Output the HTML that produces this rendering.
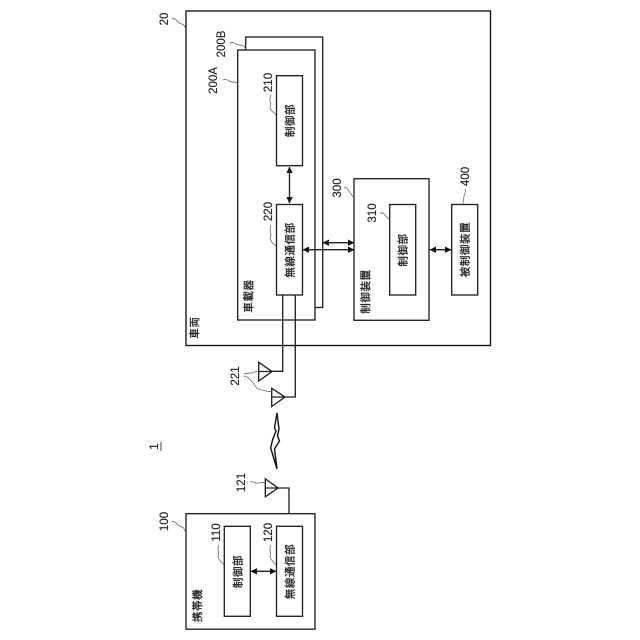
<!DOCTYPE html>
<html><head><meta charset="utf-8"><style>
html,body{margin:0;padding:0;background:#fff}
svg{display:block}
text{font-family:"Liberation Sans","Noto Sans CJK JP",sans-serif;fill:#222;text-anchor:middle;dominant-baseline:central}
.n{font-size:11.5px;stroke:#222;stroke-width:.15}
.j{font-size:10.5px;letter-spacing:.6px;stroke:#222;stroke-width:.3}
.b{fill:#fff;stroke:#222;stroke-width:1.35}
.l{fill:none;stroke:#222;stroke-width:1.35}
.w{fill:none;stroke:#555;stroke-width:.7}
</style></head><body>
<svg width="640" height="640" viewBox="0 0 640 640" xmlns="http://www.w3.org/2000/svg">
<defs>
<marker id="a" viewBox="0 0 8 8" refX="7.5" refY="4" markerWidth="6.5" markerHeight="6.5" markerUnits="userSpaceOnUse" orient="auto-start-reverse"><path d="M0 0L8 4L0 8z" fill="#111"/></marker>
</defs>
<rect x="186" y="11" width="304.5" height="334.5" fill="#fff" stroke="#111" stroke-width="1.35"/>
<rect class="b" x="245.7" y="37" width="77" height="270.5"/>
<rect class="b" x="237.7" y="50" width="77.3" height="270"/>
<rect class="b" x="276.5" y="75.7" width="26" height="90"/>
<rect class="b" x="276.5" y="204.5" width="26" height="90.5"/>
<rect class="b" x="354" y="178.7" width="75" height="141.6"/>
<rect class="b" x="389.7" y="204.5" width="26" height="90.5"/>
<rect class="b" x="451.7" y="204.5" width="26" height="90.5"/>
<rect class="b" x="186" y="513.7" width="129" height="115.5"/>
<rect class="b" x="224.3" y="526.3" width="26" height="90"/>
<rect class="b" x="276.5" y="526.3" width="26" height="90"/>

<path class="l" d="M289.5 167V203" marker-start="url(#a)" marker-end="url(#a)"/>
<path class="l" d="M323 242.7H354" marker-start="url(#a)" marker-end="url(#a)"/>
<path class="l" d="M303 249.7H354" marker-start="url(#a)" marker-end="url(#a)"/>
<path class="l" d="M430 249.7H451" marker-start="url(#a)" marker-end="url(#a)"/>
<path class="l" d="M251 571.3H276" marker-start="url(#a)" marker-end="url(#a)"/>

<path class="l" d="M282.7 295V371.3H272"/>
<path class="l" d="M295.3 295V397H285"/>
<path class="l" d="M258.7 362.3V381L272 371.5zM258.7 371.5H272"/>
<path class="l" d="M271.7 388.2V406.5L285 397zM271.7 397H285"/>
<path class="l" d="M265.3 478.8V496.8L278 488zM265.3 488H278"/>
<path class="l" d="M278 488H289V513.7"/>
<path d="M277 413L274.5 428L276 431L272.5 440L270.7 448L277 469L274.5 449L279.5 441L277.5 436L279 429z" fill="#fff" stroke="#111" stroke-width="1.4"/>

<path class="w" d="M172 19C176 17 178 24 182 24C184 24 185 27 186 29"/>
<path class="w" d="M230 43C235 41 237 46 241 45C243 45 245 47 246 50"/>
<path class="w" d="M223 80C228 78 230 83 234 82C236 82 237 83 238 84"/>
<path class="w" d="M271 95C268 99 272 103 270 107C270 111 274 112 276 115"/>
<path class="w" d="M271 225C268 230 273 234 270 238C271 243 274 244 276 246"/>
<path class="w" d="M344 188C347 186 349 192 351 194C352 196 353 197 354 198"/>
<path class="w" d="M380 213C384 212 385 216 387 217C388 219 389 219 390 220"/>
<path class="w" d="M465 189C467 192 463 195 464 198C463 200 463 202 463 204"/>
<path class="w" d="M244 374C250 372 252 374 255 372C257 371 258 371 259 371"/>
<path class="w" d="M244 376C250 377 253 384 257 388C261 391 268 391 272 392"/>
<path class="w" d="M250 482C254 481 255 484 259 483C261 482 263 482 265 483"/>
<path class="w" d="M172 522C176 520 178 527 182 527C184 527 185 531 186 533"/>
<path class="w" d="M219 545C216 549 220 552 218 556C218 560 222 562 224 565"/>
<path class="w" d="M271 545C268 549 272 552 270 556C270 560 274 562 276 565"/>
<path d="M161 442V451" stroke="#333" stroke-width=".9"/>

<text class="n" transform="translate(165 19) rotate(-90)">20</text>
<text class="n" transform="translate(222 44) rotate(-90)">200B</text>
<text class="n" transform="translate(214 80.5) rotate(-90)">200A</text>
<text class="n" transform="translate(269 82.5) rotate(-90)">210</text>
<text class="n" transform="translate(269 211.5) rotate(-90)">220</text>
<text class="n" transform="translate(338 188) rotate(-90)">300</text>
<text class="n" transform="translate(373 213) rotate(-90)">310</text>
<text class="n" transform="translate(466 176.5) rotate(-90)">400</text>
<text class="n" transform="translate(236 376) rotate(-90)">221</text>
<text class="n" transform="translate(242 482.5) rotate(-90)">121</text>
<text class="n" transform="translate(155 446.5) rotate(-90)">1</text>
<text class="n" transform="translate(165 521.5) rotate(-90)">100</text>
<text class="n" transform="translate(217 532.5) rotate(-90)">110</text>
<text class="n" transform="translate(269 532.5) rotate(-90)">120</text>

<text class="j" transform="translate(290.5 120.5) rotate(-90)">制御部</text>
<text class="j" transform="translate(290.5 250) rotate(-90)">無線通信部</text>
<text class="j" transform="translate(249 296) rotate(-90)">車載器</text>
<text class="j" transform="translate(195 327.5) rotate(-90)">車両</text>
<text class="j" transform="translate(403.5 250) rotate(-90)">制御部</text>
<text class="j" transform="translate(366 291.5) rotate(-90)">制御装置</text>
<text class="j" transform="translate(465.5 249.5) rotate(-90)">被制御装置</text>
<text class="j" transform="translate(238.5 571.5) rotate(-90)">制御部</text>
<text class="j" transform="translate(290.5 571.5) rotate(-90)">無線通信部</text>
<text class="j" transform="translate(198 605.5) rotate(-90)">携帯機</text>
</svg>
</body></html>
